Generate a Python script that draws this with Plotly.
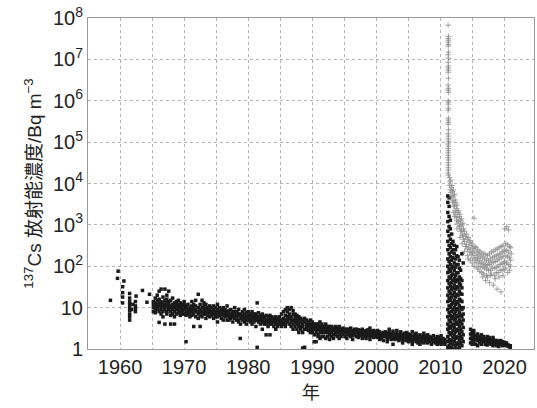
import plotly.graph_objects as go

# ---- black series (squares): (year, [values]) ----
black_groups = [
    (1958.5, [15]), (1959.7, [76]), (1959.6, [51]), (1960.4, [32, 23, 18, 13]), (1960.6, [44]),
    (1961.5, [22, 17, 14, 12, 10, 8.5, 7, 6, 5]), (1961.8, [9]), (1962.0, [12]),
    (1962.4, [14, 11, 9.5, 8]), (1962.5, [19]), (1963.5, [26]), (1964.2, [13.5]), (1964.6, [21]),
    (1965.2, [14, 10, 8, 12]), (1965.5, [17, 9, 11, 13, 7.5]), (1965.8, [20, 12, 9, 15, 10]),
    (1966.1, [11, 16, 8, 13, 4.4, 25]), (1966.4, [28, 12, 9, 14, 10, 7]), (1966.7, [11, 18, 8, 13, 6]),
    (1967.0, [28, 10, 15, 9, 12, 4]), (1967.3, [13, 20, 8, 11, 7, 16]), (1967.6, [25, 10, 12, 9, 14]),
    (1967.9, [11, 8, 15, 4, 10, 6.5]), (1968.2, [12, 9, 17, 7, 10]), (1968.5, [10, 13, 8, 4, 11, 6]),
    (1968.8, [11, 9, 14, 7, 12]), (1969.1, [9, 12, 7.5, 10, 15]), (1969.4, [10, 8, 13, 6.5, 11]),
    (1969.7, [8.5, 11, 7, 12, 9]), (1970.0, [9, 12, 7, 10, 14]), (1970.3, [1.5, 8, 10, 6.5, 11]),
    (1970.6, [9, 7, 12, 8]), (1970.9, [10, 7.5, 9, 6]),
    (1971.2, [8, 11, 6.5, 9, 14]), (1971.5, [10, 7, 12, 3.5, 8.5]), (1971.8, [9, 6, 11, 8, 15]),
    (1972.2, [21, 8, 10, 7, 5.5]), (1972.5, [9, 12, 6.5, 8, 3.5]), (1972.8, [7.5, 10, 15, 6]),
    (1973.1, [8, 11, 7, 9, 13]), (1973.4, [9.5, 7, 8, 12, 5.5]), (1973.7, [8, 10, 6.5, 9]),
    (1974.0, [7.5, 9, 11, 6]), (1974.3, [8, 6.5, 10, 7]), (1974.6, [9, 7, 8.5, 5.5, 11]),
    (1974.9, [7, 8, 6, 10]), (1975.2, [7.5, 9, 6, 12, 4.5]), (1975.5, [8, 6.5, 7, 10]),
    (1975.8, [7, 9, 5.5, 8]), (1976.1, [6.5, 8.5, 7, 10, 5]), (1976.4, [7, 6, 9, 8]),
    (1976.7, [6.5, 8, 5, 7.5, 11]), (1977.0, [7, 6, 8.5, 5]), (1977.3, [6.5, 9, 7, 5.5]),
    (1977.6, [6, 8, 4.5, 7]), (1977.9, [7, 5.5, 8, 6.5, 10]), (1978.2, [6, 7.5, 5, 8]),
    (1978.5, [6.5, 5, 7, 9, 4.5]), (1978.75, [1.8]), (1978.8, [6, 7, 5.5, 4]),
    (1979.1, [6.5, 5, 8, 6]), (1979.4, [5.5, 7, 6, 4.5, 9]), (1979.7, [6, 5, 7.5, 4]),
    (1980.0, [5.5, 6.5, 5, 8]), (1980.3, [6, 4.5, 7, 5.5]), (1980.6, [5, 6.5, 4, 6, 8]),
    (1980.9, [5.5, 7, 4.5, 6]), (1981.2, [6, 5, 3.5, 7, 5.5]), (1981.4, [13, 1.1]),
    (1981.6, [5, 6, 4.5, 7.5]), (1981.9, [5.5, 4, 6.5, 5]), (1982.2, [5, 6, 4.5, 3, 7]),
    (1982.5, [4.5, 5.5, 6, 4]), (1982.8, [5, 6.5, 4, 2.2]), (1983.1, [5, 4.5, 6, 3.5]),
    (1983.4, [4.5, 5.5, 4, 6.5, 2.2]), (1983.7, [5, 4, 6, 4.5]), (1984.0, [4.5, 5.5, 3.5, 5]),
    (1984.3, [4, 5, 6, 4.5, 3]), (1984.6, [5, 4, 5.5, 3.5]), (1984.9, [4.5, 6, 4, 5]),
    (1985.2, [5, 4, 7, 3.5, 4.5]), (1985.5, [4.5, 5.5, 8, 4]), (1985.8, [5, 6.5, 4, 9, 3.5]),
    (1986.1, [6, 4.5, 8, 5, 10]), (1986.4, [5.5, 7, 4, 9, 6]), (1986.7, [6, 4.5, 10, 5, 3.5]),
    (1987.0, [5, 7, 4, 8.5, 3]), (1987.3, [4.5, 6, 3.5, 7, 5]), (1987.6, [4, 5.5, 3, 6.5, 4.5]),
    (1987.9, [4, 5, 3.5, 6, 2.5]), (1988.2, [3.5, 4.5, 5.5, 3]), (1988.5, [1.05, 4, 3.5, 5, 2.5]),
    (1988.8, [1.1, 4.5, 3, 5.5]), (1989.1, [3.5, 4, 3, 5]), (1989.4, [3.5, 4.5, 2.8, 4]),
    (1989.7, [3, 4, 3.5, 2.5, 5]), (1990.0, [3.5, 4, 3, 2.5, 4.5]), (1990.3, [1.5, 3.5, 3, 4, 2.2]),
    (1990.6, [1.5, 3, 4, 3.5, 2.5]), (1990.9, [3.5, 3, 2.2, 4, 2]), (1991.2, [3, 3.5, 2.5, 4.5, 1.8]),
    (1991.5, [3, 2.5, 3.5, 2, 4]), (1991.8, [3.5, 2.5, 3, 2]), (1992.1, [2.5, 3.5, 3, 1.8, 4]),
    (1992.4, [3, 2.5, 3.5, 2]), (1992.7, [2.5, 3, 2.2, 3.5, 1.7]), (1993.0, [3, 2.5, 3.5, 2]),
    (1993.3, [2.8, 3.2, 2.2, 1.8]), (1993.6, [3, 2.5, 3.5, 2.2]), (1993.9, [2.5, 3, 2, 3.3]),
    (1994.2, [2.7, 3, 2.2, 1.8, 3.5]), (1994.5, [2.5, 3, 2]), (1994.8, [2.8, 2.3, 3.2]),
    (1995.1, [2.5, 3, 2, 2.7]), (1995.4, [2.6, 2.2, 3, 1.8]), (1995.7, [2.5, 3, 2.2]),
    (1996.0, [2.7, 2.3, 3.2, 2]), (1996.3, [2.5, 2.8, 2.1, 1.7]), (1996.6, [2.4, 3, 2.2, 2.7]),
    (1996.9, [2.5, 2, 3]), (1997.2, [2.6, 2.2, 2.9, 1.9]), (1997.5, [2.4, 2.8, 2.1]),
    (1997.8, [2.5, 2.2, 3, 1.8]), (1998.1, [2.3, 2.7, 2]), (1998.4, [2.5, 2.1, 2.8, 1.8]),
    (1998.7, [2.4, 2.9, 2.1]), (1999.0, [2.3, 2.6, 2, 3.2, 1.7]), (1999.3, [2.4, 2.1, 2.7]),
    (1999.6, [2.5, 2.2, 1.9, 2.8]), (1999.9, [2.3, 2.6, 2]), (2000.2, [2.2, 2.5, 1.9, 2.8]),
    (2000.5, [2.3, 2, 2.6, 1.7]), (2000.8, [2.1, 2.4, 1.8]), (2001.1, [2.2, 2.5, 2, 1.6]),
    (2001.4, [2.3, 2, 2.6]), (2001.7, [2.1, 2.4, 1.8, 1.5]), (2002.0, [2.2, 2.5, 1.9, 3]),
    (2002.3, [2, 2.3, 1.7]), (2002.6, [2.1, 2.4, 1.8, 2.7, 1.3]), (2002.9, [2, 2.2, 1.7]),
    (2003.2, [2.1, 2.4, 1.8, 2.8]), (2003.5, [1.9, 2.2, 1.6]), (2003.8, [2, 2.3, 1.7, 2.6]),
    (2004.1, [1.9, 2.2, 1.6, 1.4]), (2004.4, [2, 2.4, 1.7]), (2004.7, [1.9, 2.1, 1.6, 2.5]),
    (2005.0, [1.8, 2.1, 1.5, 2.3]), (2005.3, [1.9, 2.2, 1.6]), (2005.6, [1.8, 2, 1.5, 2.6, 1.3]),
    (2005.9, [1.9, 1.7, 2.2]), (2006.2, [1.8, 2.1, 1.5, 2.4]), (2006.5, [1.7, 2, 1.4]),
    (2006.8, [1.8, 2.2, 1.6, 1.3]), (2007.1, [1.7, 2, 1.5]), (2007.4, [1.8, 2.1, 1.4, 2.4]),
    (2007.7, [1.7, 1.5, 2]), (2008.0, [1.6, 1.9, 1.4, 2.2]), (2008.3, [1.7, 1.5, 2]),
    (2008.6, [1.6, 1.9, 1.3]), (2008.9, [1.7, 1.5, 2.1]), (2009.2, [1.6, 1.8, 1.4]),
    (2009.5, [1.5, 1.8, 1.3, 2]), (2009.8, [1.6, 1.4, 1.9]), (2010.1, [1.5, 1.7, 1.3, 2.1]),
    (2010.4, [1.6, 1.4, 1.8]), (2010.7, [1.5, 1.7, 1.3]),
    (2011.15, [1.1, 1.5, 2, 3, 4, 6, 9, 14, 20, 30, 45, 70, 100, 150, 250, 400, 700, 1200, 2000, 3500, 5000]),
    (2011.35, [1.2, 1.7, 2.5, 3.5, 5, 7.5, 11, 17, 25, 38, 55, 85, 130, 200, 320, 550, 900, 1600, 2800, 4500]),
    (2011.55, [1, 1.4, 2.2, 3.2, 4.5, 6.5, 10, 15, 22, 33, 50, 75, 110, 170, 280, 450, 800, 1300]),
    (2011.75, [1.1, 1.6, 2.4, 3.6, 5.5, 8, 12, 18, 27, 40, 60, 90, 140, 220, 350, 600]),
    (2011.95, [1.3, 1.9, 2.8, 4, 6, 9, 13, 20, 30, 45, 65, 100, 160, 250, 400]),
    (2012.15, [1, 1.5, 2.2, 3.3, 5, 7, 10, 15, 23, 35, 50, 80, 120, 200, 320]),
    (2012.35, [1.2, 1.8, 2.6, 4, 5.5, 8, 12, 18, 28, 42, 60, 95, 150, 250]),
    (2012.55, [1, 1.4, 2, 3, 4.5, 6.5, 9.5, 14, 21, 32, 48, 70, 110, 180, 300]),
    (2012.75, [1.3, 1.9, 2.8, 4, 6, 9, 13, 20, 30, 45, 70, 110, 170]),
    (2012.95, [1.1, 1.6, 2.4, 3.5, 5, 7.5, 11, 16, 25, 38, 55, 90, 140]),
    (2013.15, [1.4, 2, 3, 4.5, 6.5, 10, 15, 22, 35, 50, 80]),
    (2013.35, [1.2, 1.8, 2.6, 4, 6, 9, 14, 21, 30, 45, 200]),
    (2013.55, [1.5, 2.2, 3.3, 5, 7, 10, 120]),
    (2014.7, [1.8, 2.3, 1.4, 3]), (2014.95, [2, 1.6, 2.6, 1.3]), (2015.2, [1.9, 2.4, 1.5, 2.8]),
    (2015.5, [1.7, 2.1, 1.3]), (2015.8, [1.9, 1.6, 2.3, 1.2]), (2016.1, [1.7, 2, 1.4]),
    (2016.4, [1.6, 1.9, 1.3, 2.2]), (2016.7, [1.7, 1.5, 2]), (2017.0, [1.6, 1.8, 1.3]),
    (2017.3, [1.5, 1.8, 1.25, 2]), (2017.6, [1.6, 1.4, 1.9]), (2017.9, [1.5, 1.7, 1.3]),
    (2018.2, [1.4, 1.7, 1.2, 1.9]), (2018.5, [1.5, 1.3, 1.6]), (2018.8, [1.4, 1.6, 1.2]),
    (2019.1, [1.35, 1.55, 1.15]), (2019.4, [1.4, 1.3, 1.6]), (2019.7, [1.3, 1.5, 1.2]),
    (2020.0, [1.35, 1.25, 1.45]), (2020.3, [1.3, 1.2, 1.4]), (2020.6, [1.25, 1.15]),
    (2020.9, [1.2, 1.1]),
]

# ---- gray series (plus markers) ----
gray_column_values = [6.7e7, 3.6e7, 3.2e7, 2.9e7, 2.6e7, 2.3e7, 2.1e7, 1.5e7, 1.3e7, 1.07e7,
                      8.5e6, 6.9e6, 6.2e6, 5.5e6, 4.9e6, 3.5e6, 2.4e6, 2.0e6, 1.8e6, 1.6e6,
                      1.0e6, 9.3e5, 8.3e5, 6.6e5, 5.9e5, 3.8e5, 3.4e5, 3.0e5, 2.7e5, 2.0e5,
                      1.6e5, 1.4e5, 1.2e5, 1.05e5, 9e4, 8e4, 7e4, 6.2e4, 5.5e4, 4.8e4,
                      4.2e4, 3.7e4, 3.2e4, 2.8e4, 2.4e4, 2.1e4, 1.8e4, 1.6e4]
gray_column_years = [2011.2, 2011.25] * 24

gray_groups = [
    (2011.4, [1.4e4, 9000]), (2011.5, [1.1e4, 7000]), (2011.6, [1.2e4, 6000]),
    (2011.7, [8000, 4500]), (2011.8, [9000, 5000]), (2011.9, [6500, 3500]),
    (2012.0, [7000, 3800, 2000]), (2012.1, [5000, 2800]), (2012.2, [5500, 3000, 1600]),
    (2012.3, [4000, 2200]), (2012.4, [3500, 1800]), (2012.5, [2500, 1300]),
    (2012.6, [3000, 1500, 800]), (2012.7, [2000, 1100]), (2012.85, [2200, 1200]),
    (2012.95, [1600, 900]), (2013.05, [1800, 950, 500]), (2013.15, [1300, 700]),
    (2013.3, [1400, 750]), (2013.4, [1000, 550, 350]), (2013.5, [1100, 600]),
    (2013.6, [800, 450]), (2013.75, [700, 400, 230]), (2013.9, [520, 300]),
    (2014.05, [600, 340]), (2014.2, [450, 260, 180]), (2014.35, [500, 290, 150]),
    (2014.5, [380, 220]), (2014.65, [420, 250, 140]), (2014.8, [320, 190]),
    (2014.95, [350, 210, 120]), (2015.1, [270, 160]), (2015.25, [1450, 230, 100]),
    (2015.4, [300, 180, 140]), (2015.55, [280, 125]), (2015.7, [210, 160, 95]),
    (2015.85, [250, 150, 85]), (2016.0, [190, 115]), (2016.15, [230, 135, 75]),
    (2016.3, [175, 100]), (2016.45, [210, 125, 70]), (2016.6, [160, 95, 55]),
    (2016.75, [200, 115, 65]), (2016.9, [150, 90]), (2017.05, [190, 110, 45]),
    (2017.2, [140, 85, 60]), (2017.35, [180, 105, 55]), (2017.5, [135, 80]),
    (2017.65, [200, 110, 40]), (2017.8, [150, 80, 60]), (2017.95, [220, 120, 65]),
    (2018.1, [160, 90]), (2018.25, [230, 125, 35]), (2018.4, [170, 90, 60]),
    (2018.55, [250, 130, 50]), (2018.7, [180, 95, 70]), (2018.85, [260, 140, 28]),
    (2019.0, [190, 100, 70]), (2019.15, [280, 150, 55]), (2019.3, [200, 110, 80]),
    (2019.45, [300, 160, 24]), (2019.6, [220, 115, 80]), (2019.75, [320, 170, 60]),
    (2019.9, [230, 120, 85]), (2020.05, [800, 250, 130]), (2020.2, [350, 180, 90]),
    (2020.35, [900, 240, 120]), (2020.5, [330, 170, 70]), (2020.65, [750, 220, 110]),
    (2020.8, [300, 160, 80]), (2020.95, [280, 140, 100]), (2021.05, [200]),
]

y_tickvals = [1, 10, 1e2, 1e3, 1e4, 1e5, 1e6, 1e7, 1e8]
y_ticktext = ["1", "10", "10<sup>2</sup>", "10<sup>3</sup>", "10<sup>4</sup>",
              "10<sup>5</sup>", "10<sup>6</sup>", "10<sup>7</sup>", "10<sup>8</sup>"]
x_tickvals = [1960, 1970, 1980, 1990, 2000, 2010, 2020]

bx, by = [], []
for yr, vals in black_groups:
    for v in vals:
        bx.append(yr)
        by.append(v)

gx, gy = list(gray_column_years), list(gray_column_values)
for yr, vals in gray_groups:
    for v in vals:
        gx.append(yr)
        gy.append(v)

fig = go.Figure()
fig.add_trace(go.Scatter(
    x=bx, y=by, mode="markers",
    marker=dict(symbol="square", size=3.5, color="#1a1a1a", line=dict(width=0)),
    showlegend=False))
fig.add_trace(go.Scatter(
    x=gx, y=gy, mode="markers",
    marker=dict(symbol="cross-thin", size=4, color="#8a8a8a",
                line=dict(width=0.8, color="#8a8a8a")),
    showlegend=False))

font_family = "Liberation Sans, Arial, Noto Sans CJK JP, sans-serif"
grid_color = "#b4b4b4"
fig.update_layout(
    width=537, height=408,
    margin=dict(l=88, r=3, t=18, b=59),
    paper_bgcolor="white", plot_bgcolor="white",
    font=dict(family=font_family, size=18, color="#222"),
    xaxis=dict(
        range=[1955, 2024.6], tickvals=x_tickvals, ticks="",
        showgrid=True, gridcolor=grid_color, griddash="dot", gridwidth=1,
        minor=dict(dtick=5, tick0=1955, showgrid=True, gridcolor=grid_color, griddash="dot"),
        showline=True, linecolor="#999", linewidth=1, mirror=True,
        zeroline=False, tickfont=dict(size=20),
        title=dict(text="年", font=dict(size=18, family="Noto Sans CJK JP"), standoff=2),
    ),
    yaxis=dict(
        type="log", range=[0, 8], tickvals=y_tickvals, ticktext=y_ticktext, ticks="",
        showgrid=True, gridcolor=grid_color, griddash="dot", gridwidth=1,
        showline=True, linecolor="#999", linewidth=1, mirror=True,
        zeroline=False, tickfont=dict(size=20),
        title=dict(text="<sup>137</sup>Cs 放射能濃度/Bq m<sup>−3</sup>",
                   font=dict(size=19, family="Liberation Sans, Noto Sans CJK JP"), standoff=6),
    ),
)

fig.write_html("out.html")
